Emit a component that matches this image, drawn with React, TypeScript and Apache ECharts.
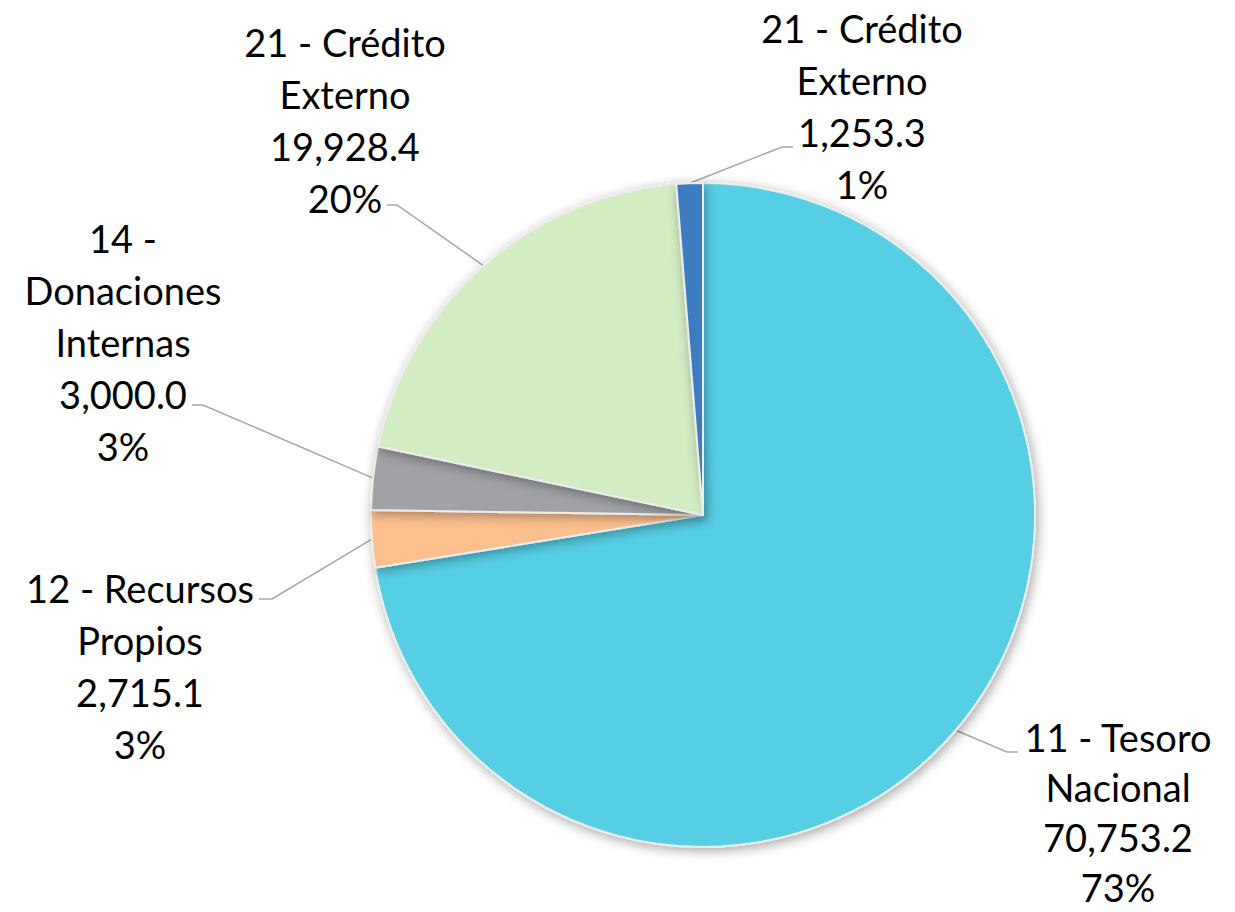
import React, { useEffect, useRef } from "react";
import * as echarts from "echarts";

const names: string[] = [
  "11 - Tesoro\nNacional",
  "12 - Recursos\nPropios",
  "14 -\nDonaciones\nInternas",
  "21 - Crédito\nExterno",
  "21 - Crédito\nExterno",
];
const values: number[] = [70753.2, 2715.1, 3000.0, 19928.4, 1253.3];
const colors: string[] = ["#57CFE5", "#FBC08E", "#A1A2A6", "#D3EDC3", "#3D7BC0"];
// label block centres (layout only)
const labelPos: [number, number][] = [
  [1118, 812],
  [140, 666],
  [123, 342],
  [345, 120],
  [862, 106],
];
const labelLineHeights: number[] = [50, 52, 52, 52, 52];
// leader line elbow and end points (layout only)
const leaderElbow: [number, number][] = [
  [1007, 752],
  [272, 599],
  [203, 405],
  [397, 205],
  [782, 147],
];
const leaderEnd: [number, number][] = [
  [1018, 752],
  [259, 599],
  [192, 405],
  [387, 205],
  [793, 147],
];

const fmt = (v: number) =>
  v.toLocaleString("en-US", { minimumFractionDigits: 1, maximumFractionDigits: 1 });

export default function App() {
  const ref = useRef<HTMLDivElement>(null);
  useEffect(() => {
    if (!ref.current) return;
    const chart = echarts.init(ref.current, undefined, { renderer: "svg" });
    chart.setOption({
      animation: false,
      backgroundColor: "#ffffff",
      series: [
        {
          type: "pie",
          center: [703, 515],
          radius: 332,
          startAngle: 90,
          clockwise: true,
          percentPrecision: 0,
          avoidLabelOverlap: false,
          data: names.map((n, i) => ({
            name: n,
            value: values[i],
            itemStyle: { color: colors[i] },
            label: { lineHeight: labelLineHeights[i] },
          })),
          itemStyle: {
            borderColor: "#ececec",
            borderWidth: 2,
            shadowBlur: 12,
            shadowColor: "rgba(0,0,0,0.35)",
            shadowOffsetX: 2,
            shadowOffsetY: 3,
          },
          label: {
            show: true,
            formatter: (p: any) => `${p.name}\n${fmt(p.value)}\n${p.percent}%`,
            fontFamily: "Lato, 'Noto Sans', sans-serif",
            fontSize: 38,
            lineHeight: 52,
            color: "#000000",
            align: "center",
          },
          labelLine: {
            show: true,
            length: 20,
            length2: 20,
            lineStyle: { color: "#A6A6A6", width: 1.5 },
          },
          labelLayout: (params: any) => {
            const i = params.dataIndex;
            const p = labelPos[i];
            const pts = params.labelLinePoints;
            const start = pts && pts[0] ? pts[0] : leaderElbow[i];
            return {
              x: p[0],
              y: p[1],
              align: "center",
              verticalAlign: "middle",
              labelLinePoints: [start, leaderElbow[i], leaderEnd[i]],
            };
          },
        },
      ],
    });
    return () => chart.dispose();
  }, []);
  return (
    <div
      ref={ref}
      style={{ position: "absolute", left: 0, top: 0, width: 1235, height: 912 }}
    />
  );
}
